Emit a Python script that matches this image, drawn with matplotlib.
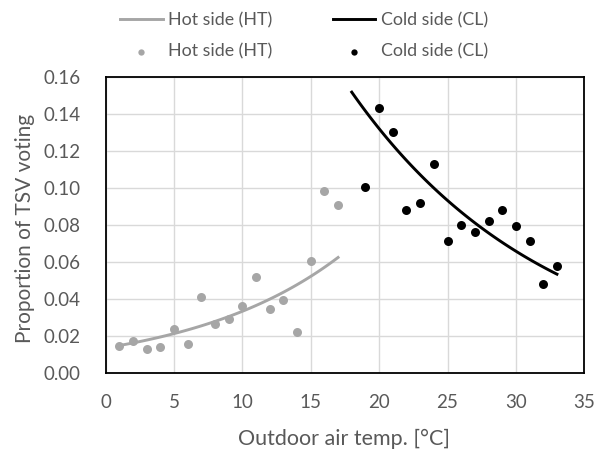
import matplotlib
matplotlib.use("Agg")
import matplotlib.pyplot as plt
import numpy as np

plt.rcParams['font.family'] = ['Lato', 'DejaVu Sans']

# data
hot_temp = [1, 2, 3, 4, 5, 6, 7, 8, 9, 10, 11, 12, 13, 14, 15, 16, 17]
hot_prop = [0.0150, 0.0172, 0.0134, 0.0142, 0.0239, 0.0161, 0.0415, 0.0269,
            0.0296, 0.0366, 0.0522, 0.0347, 0.0394, 0.0221, 0.0608, 0.0986, 0.0909]
cold_temp = [19, 20, 21, 22, 23, 24, 25, 26, 27, 28, 29, 30, 31, 32, 33]
cold_prop = [0.1006, 0.1434, 0.1307, 0.0882, 0.0918, 0.1132, 0.0715, 0.0803,
             0.0763, 0.0823, 0.0882, 0.0794, 0.0715, 0.0484, 0.0579]

# exponential trendlines y = a*exp(b*x), as drawn in the chart
hot_trend = dict(a=0.01372, b=0.0893, lo=1, hi=17)
cold_trend = dict(a=0.531, b=-0.0695, lo=18, hi=33)

hot_color = '#a6a6a6'
cold_color = '#000000'
text_color = '#595959'


def trend_line(t):
    xs = np.linspace(t['lo'], t['hi'], 100)
    return xs, t['a'] * np.exp(t['b'] * xs)


fig = plt.figure(figsize=(6.01, 4.59), dpi=100)
ax = fig.add_axes([105.5 / 601, 1 - 373.3 / 459, 478.8 / 601, 296 / 459])

hx, hy = trend_line(hot_trend)
cx, cy = trend_line(cold_trend)

l1, = ax.plot(hx, hy, color=hot_color, lw=2.1, zorder=3)
l2, = ax.plot(cx, cy, color=cold_color, lw=2.1, zorder=3)
s1 = ax.scatter(hot_temp, hot_prop, s=42, color=hot_color, zorder=4, linewidths=0)
s2 = ax.scatter(cold_temp, cold_prop, s=42, color=cold_color, zorder=4, linewidths=0)

ax.set_xlim(0, 35)
ax.set_ylim(0, 0.16)
ax.set_xticks(np.arange(0, 36, 5))
ax.set_yticks(np.arange(0, 0.161, 0.02))
ax.set_yticklabels([f'{v:.2f}' for v in np.arange(0, 0.161, 0.02)])
ax.grid(True, color='#d9d9d9', lw=1)
ax.set_axisbelow(True)
for sp in ax.spines.values():
    sp.set_color('black')
    sp.set_linewidth(1.3)
ax.tick_params(axis='both', length=0, labelsize=13.5, labelcolor=text_color)
ax.tick_params(axis='y', pad=18)
ax.tick_params(axis='x', pad=15)

fig.text(25 / 601, 1 - 228 / 459, 'Proportion of TSV voting', rotation=90,
         ha='center', va='center', fontsize=15, color=text_color)
fig.text(344 / 601, 1 - 439 / 459, 'Outdoor air temp. [°C]',
         ha='center', va='center', fontsize=15.5, color=text_color)

leg = fig.legend([l1, s1, l2, s2],
                 ['Hot side (HT)', 'Hot side (HT)', 'Cold side (CL)', 'Cold side (CL)'],
                 ncol=2, loc='center', bbox_to_anchor=(304 / 601, 1 - 36 / 459),
                 frameon=False, fontsize=12.8, labelcolor=text_color,
                 handlelength=2.4, handletextpad=0.3, columnspacing=3.4,
                 labelspacing=0.85, markerscale=0.7)

fig.savefig('out.png', dpi=100)
